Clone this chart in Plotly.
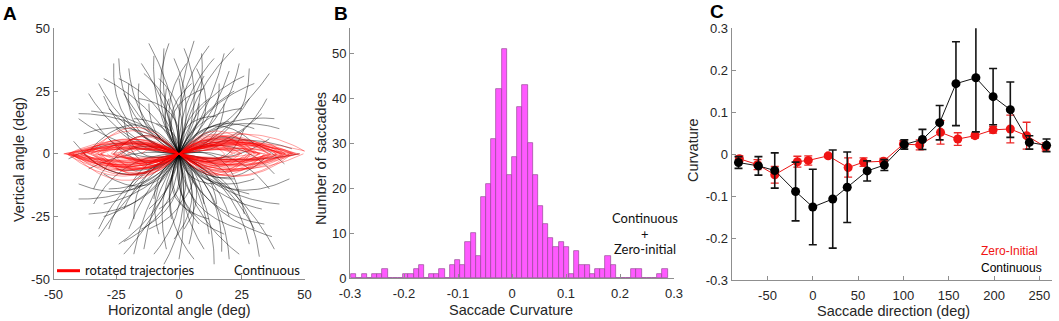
import numpy as np
import plotly.graph_objects as go

W, H = 1059, 321

# ---------------- Panel A: saccade trajectories (end point x, end point y, curvature) ----------
traj_x_end = [6, 9, 14, 20, 26, 3, -2, -10, -15, -20, -26, -24, -30, -35, -28, -33, -38, -22, -16, -8,
              -5, 0, 5, 10, 16, 22, 28, 25, 33, 30, 36, 20, 18, 12, 8, -12, -18, -25, -14, -6,
              2, 12, 18, -30, -20, 24, 30, -36, 35, -40,
              0, -5, -10, -18, -22, -28, -30, -34, -40, -36, -28, -22, -15, -8, 4, 10, 17, 24, 32, 37,
              30, 25, 20, 33, 36, 28, 38, 22, 15, 8, 2, -3, -12, -20, -25, 12, -14, 6, 14, -24,
              -32, 28, 40, -36, 18, -6, 10, -10, 26, -18,
              45, -44, 42, -42, 48, -35, 40, -30, 34, -20,
              -4, 7, 15, -9, -32, -12, 22, 28, -40, -24, 38, -38, 44, -34, 30, -26, -2, 5, -22, 20,
              34, -12, 14, -8, 30, -30, 38, -20, 2, -40, 10, -16, -28, 26, -4, 36, -22, 12, -32, 24]
traj_y_end = [45, 40, 38, 33, 31, 36, 38, 39, 36, 34, 36, 30, 23, 17, 18, 12, 8, 24, 28, 30,
              26, 30, 28, 31, 28, 25, 22, 18, 16, 10, 6, 13, 20, 22, 20, 20, 14, 10, 32, 42,
              42, 43, 40, 30, 28, 36, 28, 24, 22, 14,
              -42, -38, -40, -40, -35, -30, -25, -20, -12, -6, -14, -22, -30, -32, -36, -38, -39, -40, -41, -33,
              -30, -30, -25, -22, -14, -16, -8, -10, -20, -28, -30, -26, -22, -14, -6, -32, -38, -42, -44, -36,
              -33, -36, -20, -24, -32, -44, -20, -18, -24, -26,
              2, -2, -4, 5, 0, 2, 10, -8, -2, 3,
              22, 34, 15, 12, 28, 44, 42, 34, 16, 38, 14, 0, -10, -14, 4, 0, -34, -24, -40, -42,
              -28, -30, -12, -22, -10, -20, -38, -30, -18, -18, 26, 22, 6, 10, 44, 32, 14, -26, -30, -16]
traj_curv = [0.05, -0.08, 0.10, -0.06, 0.12, 0.15, -0.10, 0.08, -0.05, 0.12, 0.20, -0.12, 0.15, -0.10, 0.06, 0.18, -0.15, 0.05, 0.18, -0.15,
             0.10, -0.05, 0.20, 0.05, -0.15, 0.08, -0.10, 0.15, -0.08, 0.20, -0.12, 0.10, -0.20, 0.12, -0.10, 0.15, -0.18, 0.10, -0.12, 0.06,
             -0.12, 0.10, -0.05, -0.08, 0.22, -0.10, 0.10, 0.12, -0.15, 0.08,
             0.05, -0.10, 0.12, -0.06, 0.15, -0.12, 0.10, -0.15, 0.20, -0.08, 0.12, -0.10, 0.18, -0.15, 0.10, -0.08, 0.12, -0.10, 0.15, -0.12,
             0.08, -0.18, 0.10, -0.10, 0.15, -0.08, 0.18, -0.12, 0.15, -0.12, 0.20, -0.08, 0.10, -0.15, 0.12, 0.05, -0.05, -0.15, 0.08, 0.10,
             -0.05, 0.12, -0.10, 0.15, -0.20, 0.10, 0.10, -0.12, 0.20, -0.18,
             0.10, -0.12, 0.20, 0.25, -0.05, -0.30, 0.15, 0.28, -0.25, 0.30,
             0.15, -0.20, 0.25, -0.20, 0.10, -0.06, 0.08, -0.20, -0.10, 0.15, 0.12, 0.22, -0.20, -0.25, 0.30, -0.28, 0.18, -0.20, 0.06, 0.10,
             -0.15, 0.25, -0.20, 0.20, -0.20, 0.10, 0.08, -0.06, 0.25, 0.12, 0.28, -0.25, 0.20, -0.28, 0.12, -0.06, 0.30, -0.30, -0.10, 0.25]

# ---------------- Panel B: histogram of saccade curvature ----------------
BIN_START = -0.2976
BIN_WIDTH = 0.0096
hist_counts = [1, 0, 1, 0, 1, 1, 2, 0, 0, 0, 1, 1, 2, 3, 0, 1, 1, 2, 0, 3,
               4, 3, 8, 10, 5, 18, 21, 31, 42, 51, 23, 27, 38, 43, 30, 23, 16, 12, 9, 7,
               8, 7, 1, 6, 3, 3, 1, 2, 2, 5, 3, 0, 0, 0, 2, 2, 0, 0, 0, 1, 2]

# ---------------- Panel C: curvature vs direction ----------------
dir_cont = [-82, -60, -42, -19, 0, 22, 38, 60, 79, 101, 121, 140, 158, 180, 199, 218, 239, 258]
curv_cont = [-0.020, -0.028, -0.039, -0.089, -0.126, -0.107, -0.079, -0.040, -0.026, 0.023, 0.035, 0.075,
             0.168, 0.182, 0.137, 0.106, 0.028, 0.021]
err_cont = [0.014, 0.022, 0.042, 0.070, 0.090, 0.117, 0.084, 0.024, 0.013, 0.011, 0.024, 0.041,
            0.100, 0.129, 0.067, 0.066, 0.016, 0.015]
dir_zero = [-81, -61, -42, -17, -5, 17, 39, 56, 78, 100, 118, 141, 160, 179, 199, 218, 236, 257]
curv_zero = [-0.011, -0.025, -0.049, -0.018, -0.015, -0.004, -0.032, -0.019, -0.017, 0.024, 0.022, 0.052,
             0.036, 0.044, 0.058, 0.060, 0.044, 0.017]
err_zero = [0.007, 0.012, 0.020, 0.013, 0.011, 0.004, 0.023, 0.010, 0.007, 0.008, 0.012, 0.028,
            0.015, 0.006, 0.008, 0.033, 0.032, 0.010]

xticks_A = [-50, -25, 0, 25, 50]
xticks_B = [-0.3, -0.2, -0.1, 0, 0.1, 0.2, 0.3]
yticks_B = [0, 10, 20, 30, 40, 50]
xticks_C = [-50, 0, 50, 100, 150, 200, 250]
yticks_C = [-0.3, -0.2, -0.1, 0, 0.1, 0.2, 0.3]


def lab(v):
    return "%g" % v


fig = go.Figure()


def curve(xe, ye, c, n=40):
    t = np.linspace(0, 1, n)
    A = np.hypot(xe, ye)
    ux, uy = xe / A, ye / A
    px, py = -uy, ux
    cx = xe / 2 + px * 2 * c * A
    cy = ye / 2 + py * 2 * c * A
    x = 2 * t * (1 - t) * cx + t ** 2 * xe
    y = 2 * t * (1 - t) * cy + t ** 2 * ye
    return x, y, ux, uy, px, py


black_curves = []
red_curves = []
for xe, ye, c in zip(traj_x_end, traj_y_end, traj_curv):
    x, y, ux, uy, px, py = curve(xe, ye, c)
    black_curves.append((x, y))
    s = x * ux + y * uy
    p = x * px + y * py
    if xe >= 0:
        red_curves.append((s, p))
    else:
        red_curves.append((-s, -p))

for x, y in black_curves:
    fig.add_trace(go.Scatter(x=x, y=y, mode="lines", line=dict(color="rgba(0,0,0,0.5)", width=0.9),
                             xaxis="x", yaxis="y", showlegend=False, hoverinfo="skip"))
for x, y in red_curves:
    fig.add_trace(go.Scatter(x=x, y=y, mode="lines", line=dict(color="rgba(255,0,0,0.42)", width=0.9),
                             xaxis="x", yaxis="y", showlegend=False, hoverinfo="skip"))

# Panel B bars
centers = [BIN_START + (i + 0.5) * BIN_WIDTH for i in range(len(hist_counts))]
fig.add_trace(go.Bar(x=centers, y=hist_counts, width=BIN_WIDTH,
                     marker=dict(color="rgb(255,90,255)", line=dict(color="rgb(150,70,150)", width=0.7)),
                     xaxis="x2", yaxis="y2", showlegend=False))

# Panel C
fig.add_trace(go.Scatter(x=dir_zero, y=curv_zero, mode="lines+markers",
                         line=dict(color="rgb(235,20,20)", width=1),
                         marker=dict(color="rgb(240,20,20)", size=9),
                         error_y=dict(type="data", array=err_zero, color="rgb(235,40,40)", thickness=1.3, width=4),
                         xaxis="x3", yaxis="y3", showlegend=False))
fig.add_trace(go.Scatter(x=dir_cont, y=curv_cont, mode="lines+markers",
                         line=dict(color="rgb(20,20,20)", width=1),
                         marker=dict(color="black", size=9),
                         error_y=dict(type="data", array=err_cont, color="rgb(20,20,20)", thickness=1.6, width=4),
                         xaxis="x3", yaxis="y3", showlegend=False))

TICKFONT = dict(family="Liberation Sans, Arial, sans-serif", size=13, color="#262626")
ax = dict(showline=True, linecolor="#8f8f8f", linewidth=1, ticks="inside", ticklen=4, tickcolor="#8f8f8f",
          showgrid=False, zeroline=False, tickfont=TICKFONT, mirror=False, fixedrange=True, automargin=False)
axx = dict(ax, ticklabelstandoff=3)


def dom(px0, px1):
    return [px0 / W, px1 / W]


def ydom(top, bottom):
    return [1 - bottom / H, 1 - top / H]


fig.update_layout(
    width=W, height=H, margin=dict(l=0, r=0, t=0, b=0, autoexpand=False),
    paper_bgcolor="white", plot_bgcolor="white",
    xaxis=dict(axx, domain=dom(53.5, 304.5), range=[-50, 50], anchor="y",
               tickvals=xticks_A, ticktext=[lab(v) for v in xticks_A]),
    yaxis=dict(ax, domain=ydom(28.3, 279.3), range=[-50, 50], anchor="x",
               tickvals=xticks_A, ticktext=[lab(v) for v in xticks_A]),
    xaxis2=dict(axx, domain=dom(350, 674), range=[-0.3, 0.3], anchor="y2",
                tickvals=xticks_B, ticktext=[lab(v) for v in xticks_B]),
    yaxis2=dict(ax, domain=ydom(28, 278.3), range=[0, 55.6], anchor="x2",
                tickvals=yticks_B, ticktext=[lab(v) for v in yticks_B]),
    xaxis3=dict(axx, domain=dom(731.7, 1052), range=[-89.5, 264], anchor="y3",
                tickvals=xticks_C, ticktext=[lab(v) for v in xticks_C]),
    yaxis3=dict(ax, domain=ydom(28.3, 280), range=[-0.3, 0.3], anchor="x3",
                tickvals=yticks_C, ticktext=[lab(v) for v in yticks_C]),
    bargap=0,
)

TITLEFONT = dict(family="Liberation Sans, Arial, sans-serif", size=14.5, color="#262626")
CALFONT = dict(family="Lato, sans-serif", size=13, color="#111111")
ann = []


def A(text, x, y, font, xanchor="center", yanchor="middle", angle=0):
    ann.append(dict(text=text, x=x / W, y=1 - y / H, xref="paper", yref="paper", showarrow=False,
                    font=font, xanchor=xanchor, yanchor=yanchor, textangle=angle))


A("Horizontal angle (deg)", 179, 310, TITLEFONT)
A("Vertical angle (deg)", 19, 160, TITLEFONT, angle=-90)
A("Saccade Curvature", 511, 310, TITLEFONT)
A("Number of saccades", 321, 159, TITLEFONT, angle=-90)
A("Saccade direction (deg)", 893, 311, TITLEFONT)
A("Curvature", 693, 150, TITLEFONT, angle=-90)
PFONT = dict(family="Liberation Sans, Arial, sans-serif", size=19, color="black")
A("<b>A</b>", 9.5, 13.5, PFONT)
A("<b>B</b>", 340.5, 13.5, PFONT)
A("<b>C</b>", 716.5, 11.5, PFONT)
A("rotated trajectories", 83, 270, CALFONT, xanchor="left")
A("Continuous", 302, 270, CALFONT, xanchor="right")
A("Continuous", 645, 218, CALFONT)
A("+", 645, 234, CALFONT)
A("Zero-initial", 645, 249, CALFONT)
LFONT = dict(family="Liberation Sans, Arial, sans-serif", size=12)
A("Zero-Initial", 979, 251, dict(LFONT, color="rgb(240,20,20)"), xanchor="left")
A("Continuous", 979, 268, dict(LFONT, color="black"), xanchor="left")
fig.update_layout(annotations=ann)

fig.add_shape(type="line", xref="paper", yref="paper", x0=57 / W, x1=80 / W,
              y0=1 - 270.7 / H, y1=1 - 270.7 / H, line=dict(color="red", width=3))

fig.write_html("out.html", config={"displayModeBar": False},
               post_script="document.body.style.margin='0px';document.body.style.overflow='hidden';")
